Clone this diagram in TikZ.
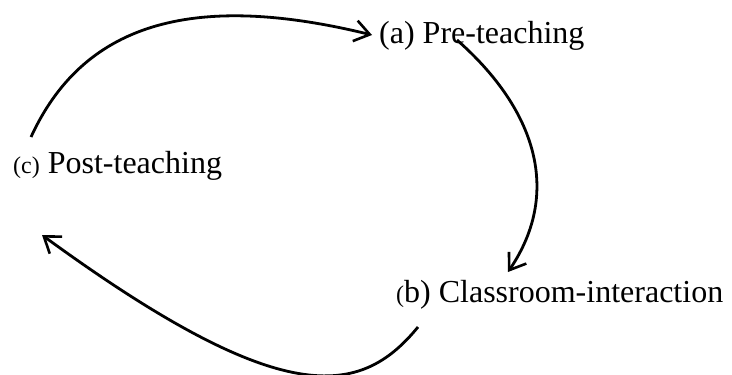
\documentclass[tikz,border=0pt]{standalone}
\usepackage{fontspec}
\setmainfont{Liberation Serif}
\usetikzlibrary{arrows.meta, positioning}

\begin{document}
\begin{tikzpicture}[x=1pt, y=-1pt,
    stage/.style={inner sep=0pt, anchor=base west, font=\fontsize{32}{38}\selectfont},
    cycle/.style={line width=2.8pt, -{Straight Barb[length=15pt, width=21pt, line width=2.6pt]}}]
  \def \smallp {\fontsize{24}{28}\selectfont} % the small labels
  \useasboundingbox (0,0) rectangle (732,375);

  \node[stage] (pre) at (379,43) {(a) Pre-teaching};
  \node[stage] (post) at (13,173) {{\smallp (c)} Post-teaching};
  \node[stage] (class) at (396,302) {{\smallp (}b) Classroom-interaction};

  % ends of the arcs
  \coordinate (preIn) at (372,35);
  \coordinate (preOut) at (457,40);
  \coordinate (classIn) at (508,272);
  \coordinate (classOut) at (418,327);
  \coordinate (postIn) at (42,235);
  \coordinate (postOut) at (31,137);

  \draw[cycle] (postOut) .. controls (82,26) and (188,-10) .. (preIn);
  \draw[cycle] (preOut) .. controls (532,106) and (564,189) .. (classIn);
  \draw[cycle] (classOut) .. controls (360,398) and (282,410) .. (postIn);
\end{tikzpicture}
\end{document}
